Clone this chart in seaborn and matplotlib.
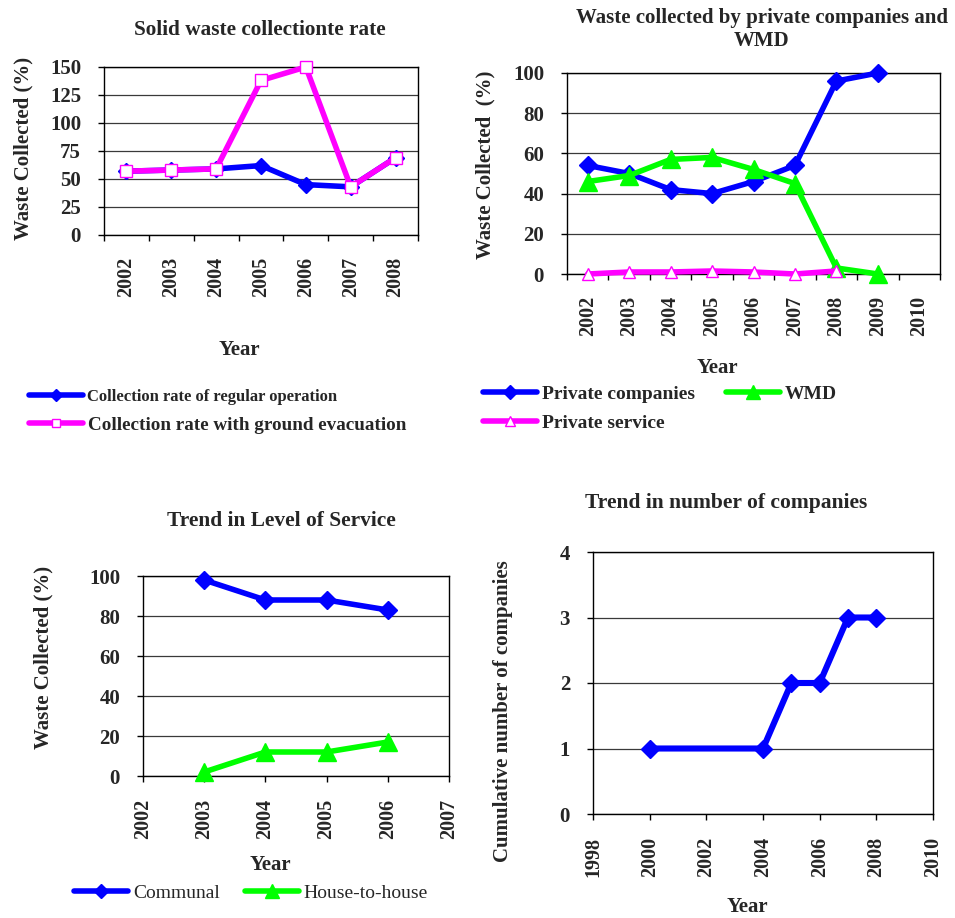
import matplotlib
matplotlib.use("Agg")
import matplotlib.pyplot as plt
import numpy as np
import seaborn as sns

# ---- data ----
rate_years = [2002, 2003, 2004, 2005, 2006, 2007, 2008]
rate_regular = [57, 58, 59, 62, 45, 43, 69]
rate_ground = [57, 58, 59, 138, 150, 43, 69]

share_years = [2002, 2003, 2004, 2005, 2006, 2007, 2008, 2009, 2010]
share_private = [54, 50, 42, 40, 46, 54, 96, 100]
share_wmd = [46, 49, 57, 58, 52, 45, 3, 0]
share_service = [0, 1, 1, 1.5, 1, 0, 1.5]

los_years = [2003, 2004, 2005, 2006]
los_communal = [98, 88, 88, 83]
los_house = [2, 12, 12, 17]

comp_years = [2000, 2004, 2005, 2006, 2007, 2008]
comp_count = [1, 1, 2, 2, 3, 3]

BLUE = "#0000FF"
PINK = "#FF00FF"
GREEN = "#00FF00"

sns.set_theme(style="white")
plt.rcParams["font.family"] = ["Liberation Serif", "DejaVu Serif"]
plt.rcParams["font.weight"] = "bold"

W, H = 955, 918
fig = plt.figure(figsize=(W / 100, H / 100), dpi=100)


def box(l, t, r, b):
    return [l / W, 1 - b / H, (r - l) / W, (b - t) / H]


def pt(x, y):
    return (x / W, 1 - y / H)


def frame(ax, ylim, yticks):
    ax.set_ylim(*ylim)
    ax.set_yticks(yticks)
    ax.set_yticklabels([f"{v:g}" for v in yticks])
    ax.yaxis.grid(True, color="#3a3a3a", lw=0.9)
    ax.xaxis.grid(False)
    ax.set_axisbelow(True)
    for s in ax.spines.values():
        s.set_visible(True)
        s.set_color("black")
        s.set_linewidth(1.0)
    ax.tick_params(axis="y", direction="out", length=4.5, width=1, pad=12,
                   labelsize=15, left=True, color="black")
    ax.set_xlabel("")
    ax.set_ylabel("")


def category_x(ax, years):
    ax.set_xlim(years[0] - 0.5, years[-1] + 0.5)
    ax.set_xticks(years)
    ax.set_xticklabels([str(y) for y in years], rotation=90)
    ax.set_xticks(np.arange(years[0] - 0.5, years[-1] + 1.0, 1.0), minor=True)
    ax.tick_params(axis="x", which="major", length=0, pad=16, labelsize=14.5)
    ax.tick_params(axis="x", which="minor", direction="out", length=4.5,
                   width=1, bottom=True, color="black")


def value_x(ax, lo, hi, step):
    ticks = np.arange(lo, hi + step, step)
    ax.set_xlim(lo, hi)
    ax.set_xticks(ticks)
    ax.set_xticklabels([str(int(t)) for t in ticks], rotation=90)
    ax.tick_params(axis="x", which="major", direction="out", length=4.5,
                   width=1, pad=12, labelsize=14.5, bottom=True, color="black")


def series(ax, x, y, color, marker, ms, label, face=None, lw=4.0, mew=1.0):
    sns.lineplot(x=x, y=y, ax=ax, color=color, lw=lw, marker=marker,
                 markersize=ms, markerfacecolor=face or color,
                 markeredgecolor=color, markeredgewidth=mew, label=label,
                 clip_on=False, zorder=3)
    if ax.get_legend() is not None:
        ax.get_legend().remove()


def legend_row(handles, labels, x, y, size, weight="bold", hl_px=54):
    fig.legend(handles, labels, loc="center left", bbox_to_anchor=pt(x, y),
               frameon=False, borderpad=0, borderaxespad=0,
               handlelength=hl_px / (size * 100 / 72), handletextpad=0.25,
               numpoints=1, markerscale=0.8,
               prop={"family": "Liberation Serif", "size": size,
                     "weight": weight})


def title(x, y, s, size):
    fig.text(*pt(x, y), s, ha="center", va="center", fontsize=size,
             fontweight="bold", multialignment="center")


def ylab(x, y, s, size=15):
    fig.text(*pt(x, y), s, ha="center", va="center", rotation=90,
             fontsize=size, fontweight="bold")


# ---- panel 1: collection rate ----
ax1 = fig.add_axes(box(104, 67, 418, 235))
series(ax1, rate_years, rate_regular, BLUE, "D", 8.0,
       "Collection rate of regular operation")
series(ax1, rate_years, rate_ground, PINK, "s", 8.0,
       "Collection rate with ground evacuation", face="white")
frame(ax1, (0, 150), [0, 25, 50, 75, 100, 125, 150])
category_x(ax1, rate_years)
h1, l1 = ax1.get_legend_handles_labels()
title(260, 30, "Solid waste collectionte rate", 15.3)
ylab(23, 148, "Waste Collected (%)")
title(239, 350, "Year", 15)
legend_row([h1[0]], [l1[0]], 29, 397, 12)
legend_row([h1[1]], [l1[1]], 29, 425, 13.8)

# ---- panel 2: private companies vs WMD ----
ax2 = fig.add_axes(box(567, 73, 940, 274))
series(ax2, share_years[:len(share_private)], share_private, BLUE, "D", 9.0,
       "Private companies")
series(ax2, share_years[:len(share_wmd)], share_wmd, GREEN, "^", 13,
       "WMD")
series(ax2, share_years[:len(share_service)], share_service, PINK, "^", 9,
       "Private service", face="white")
frame(ax2, (0, 100), [0, 20, 40, 60, 80, 100])
category_x(ax2, share_years)
h2, l2 = ax2.get_legend_handles_labels()
title(762, 30, "Waste collected by private companies and\nWMD", 15)
ylab(485, 165, "Waste Collected  (%)")
title(717, 368, "Year", 15)
legend_row([h2[0]], [l2[0]], 483, 394, 14)
legend_row([h2[1]], [l2[1]], 726, 394, 14)
legend_row([h2[2]], [l2[2]], 483, 423, 14)

# ---- panel 3: level of service ----
ax3 = fig.add_axes(box(143, 576, 449, 776))
series(ax3, los_years, los_communal, BLUE, "D", 8.7, "Communal")
series(ax3, los_years, los_house, GREEN, "^", 13, "House-to-house")
frame(ax3, (0, 100), [0, 20, 40, 60, 80, 100])
value_x(ax3, 2002, 2007, 1)
h3, l3 = ax3.get_legend_handles_labels()
title(281, 521, "Trend in Level of Service", 15.4)
ylab(43, 657, "Waste Collected (%)")
title(270, 865, "Year", 15)
legend_row([h3[0]], [l3[0]], 74, 893, 14, weight="normal")
legend_row([h3[1]], [l3[1]], 245, 893, 14, weight="normal")

# ---- panel 4: number of companies ----
ax4 = fig.add_axes(box(593, 552, 933, 814))
series(ax4, comp_years, comp_count, BLUE, "D", 9.5, "Companies", lw=4.4)
frame(ax4, (0, 4), [0, 1, 2, 3, 4])
value_x(ax4, 1998, 2010, 2)
title(726, 503, "Trend in number of companies", 15.5)
ylab(503, 711, "Cumulative number of companies")
title(747, 907, "Year", 15)

fig.savefig("out.png", dpi=100, facecolor="white")
